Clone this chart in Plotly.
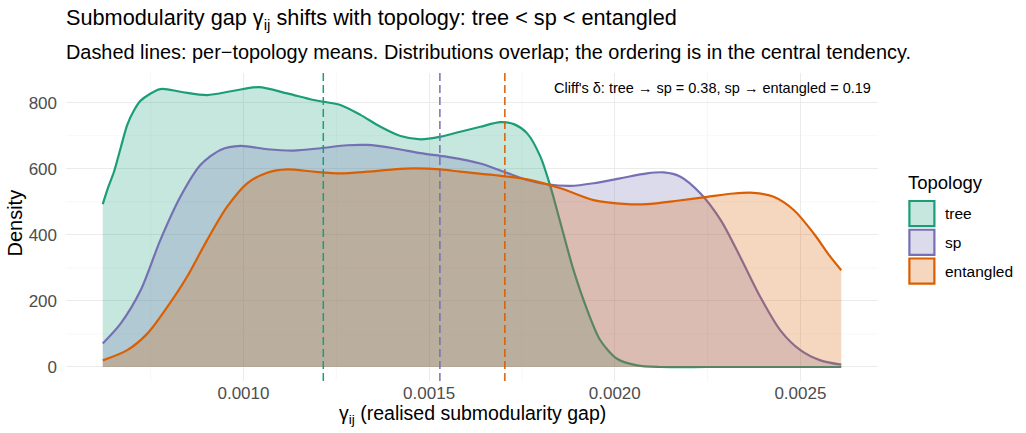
import plotly.graph_objects as go

# ---- data ----
topologies = ["tree", "sp", "entangled"]
colors = ["#1B9E77", "#7570B3", "#D95F02"]
fills = ["rgba(27,158,119,0.25)", "rgba(117,112,179,0.25)", "rgba(217,95,2,0.25)"]

tree_x = [0.000621, 0.000636, 0.000651, 0.000669, 0.000687, 0.000705, 0.000723, 0.000776,
          0.000830, 0.000902, 0.000974,
          0.001041, 0.001118, 0.001189, 0.001261, 0.001315, 0.001369, 0.001423, 0.001477,
          0.001531, 0.001584, 0.001638, 0.001692, 0.001728, 0.001764, 0.001800, 0.001827,
          0.001854, 0.001889, 0.001926, 0.001961, 0.002006, 0.002060, 0.002123, 0.002250,
          0.002400, 0.002610]
tree_y = [493, 545, 590, 662, 733, 776, 806, 841,
          833, 823, 836,
          847, 828, 808, 793, 763, 727, 699, 689,
          697, 712, 727, 741, 735, 707, 636, 545,
          435, 293, 172, 81, 25, 5, 0, 0,
          0, 0]

sp_x = [0.000621, 0.000669, 0.000723, 0.000776, 0.000830, 0.000884, 0.000938, 0.000992,
        0.001064, 0.001135, 0.001207, 0.001279, 0.001333, 0.001405, 0.001477, 0.001549,
        0.001638, 0.001701, 0.001764, 0.001818, 0.001881, 0.001943, 0.002015, 0.002087,
        0.002132, 0.002177, 0.002231, 0.002285, 0.002338, 0.002392, 0.002446, 0.002500,
        0.002554, 0.002610]
sp_y = [71, 131, 232, 384, 515, 611, 657, 669,
        659, 655, 662, 671, 672, 662, 647, 636,
        616, 591, 566, 553, 548, 556, 571, 586,
        589, 576, 525, 445, 333, 212, 111, 51,
        20, 7]

ent_x = [0.000621, 0.000687, 0.000741, 0.000795, 0.000848, 0.000902, 0.000956, 0.001010,
         0.001064, 0.001118, 0.001189, 0.001261, 0.001333, 0.001405, 0.001459, 0.001531,
         0.001584, 0.001674, 0.001764, 0.001854, 0.001943, 0.002033, 0.002087, 0.002168,
         0.002249, 0.002320, 0.002374, 0.002428, 0.002482, 0.002536, 0.002581, 0.002610]
ent_y = [20, 51, 101, 182, 273, 384, 485, 556,
         588, 598, 591, 586, 591, 598, 601, 598,
         591, 581, 568, 541, 505, 493, 493, 503,
         515, 525, 527, 515, 475, 404, 333, 293]

means = [0.001215, 0.001529, 0.001704]

x_ticks = [0.0010, 0.0015, 0.0020, 0.0025]
x_tick_labels = ["0.0010", "0.0015", "0.0020", "0.0025"]
y_ticks = [0, 200, 400, 600, 800]
minor_x = [0.00075, 0.00125, 0.00175, 0.00225]
minor_y = [100, 300, 500, 700]

series_x = [tree_x, sp_x, ent_x]
series_y = [tree_y, sp_y, ent_y]

FONT = "Liberation Sans, Arial, sans-serif"
W, H = 1026, 433
# panel edges, in pixels
L, R, T, B = 65.5, 877.6, 73.3, 380.6
PW, PH = R - L, B - T


def px(xpix):
    return (xpix - L) / PW


def py(ypix):
    return (B - ypix) / PH


fig = go.Figure()

for name, xs, ys, col, fc in zip(topologies, series_x, series_y, colors, fills):
    fig.add_trace(go.Scatter(x=xs, y=ys, mode="lines", name=name, fill="tozeroy",
                             fillcolor=fc, line=dict(color=col, width=2.2, shape="spline", smoothing=0.8),
                             showlegend=False, hoverinfo="skip"))

XR = [0.000522, 0.002709]
YR = [-42.4, 889.7]

for m, col in zip(means, colors):
    fig.add_trace(go.Scatter(x=[m, m], y=YR, mode="lines",
                             line=dict(color=col, width=1.5, dash="8px,4px"),
                             showlegend=False, hoverinfo="skip"))

shapes = []
for v in minor_x:
    shapes.append(dict(type="line", xref="x", yref="paper", x0=v, x1=v, y0=0, y1=1,
                       line=dict(color="#F2F2F2", width=0.6), layer="below"))
for v in minor_y:
    shapes.append(dict(type="line", xref="paper", yref="y", x0=0, x1=1, y0=v, y1=v,
                       line=dict(color="#F2F2F2", width=0.6), layer="below"))

annotations = [
    dict(text="Submodularity gap γ<sub>ij</sub> shifts with topology: tree &lt; sp &lt; entangled",
         xref="paper", yref="paper", x=px(63), y=py(19), xanchor="left", yanchor="middle",
         showarrow=False, font=dict(family=FONT, size=21.7, color="black")),
    dict(text="Dashed lines: per−topology means. Distributions overlap; the ordering is in the central tendency.",
         xref="paper", yref="paper", x=px(63), y=py(52), xanchor="left", yanchor="middle",
         showarrow=False, font=dict(family=FONT, size=19.9, color="black")),
    dict(text="Cliff's δ: tree → sp = 0.38, sp → entangled = 0.19", xref="paper", yref="paper",
         x=px(873), y=py(88.3), xanchor="right", yanchor="middle", showarrow=False,
         font=dict(family=FONT, size=14.5, color="black")),
    dict(text="Density", xref="paper", yref="paper", x=px(15), y=py(223), textangle=-90,
         xanchor="center", yanchor="middle", showarrow=False,
         font=dict(family=FONT, size=20, color="black")),
    dict(text="γ<sub>ij</sub> (realised submodularity gap)", xref="paper", yref="paper",
         x=px(472), y=py(414), xanchor="center", yanchor="middle", showarrow=False,
         font=dict(family=FONT, size=19.5, color="black")),
    dict(text="Topology", xref="paper", yref="paper", x=px(906), y=py(183), xanchor="left",
         yanchor="middle", showarrow=False, font=dict(family=FONT, size=18.5, color="black")),
]
for i, (name, col, fc) in enumerate(zip(topologies, colors, fills)):
    ytop = 201 + i * 28.7
    shapes.append(dict(type="rect", xref="paper", yref="paper",
                       x0=px(909), x1=px(934), y0=py(ytop + 25), y1=py(ytop),
                       fillcolor=fc, line=dict(color=col, width=2.2), layer="above"))
    annotations.append(dict(text=name, xref="paper", yref="paper", x=px(943),
                            y=py(ytop + 12.5), xanchor="left", yanchor="middle", showarrow=False,
                            font=dict(family=FONT, size=15.5, color="black")))

fig.update_layout(
    width=W, height=H,
    margin=dict(l=L, r=W - R, t=T, b=H - B, autoexpand=False),
    paper_bgcolor="white", plot_bgcolor="white",
    font=dict(family=FONT, color="black"),
    xaxis=dict(range=XR, tickvals=x_ticks, ticktext=x_tick_labels, showgrid=True,
               gridcolor="#EBEBEB", gridwidth=1.1, zeroline=False, showline=False, ticks="",
               automargin=False, ticklabelstandoff=0,
               tickfont=dict(family=FONT, size=17, color="#4D4D4D")),
    yaxis=dict(range=YR, tickvals=y_ticks, showgrid=True, gridcolor="#EBEBEB", gridwidth=1.1,
               zeroline=False, showline=False, ticks="", automargin=False, ticklabelstandoff=8,
               tickfont=dict(family=FONT, size=17, color="#4D4D4D")),
    shapes=shapes,
    annotations=annotations,
    showlegend=False,
)

fig.write_html("out.html", config={"displayModeBar": False},
               post_script="document.body.style.margin='0px';document.body.style.overflow='hidden';")
